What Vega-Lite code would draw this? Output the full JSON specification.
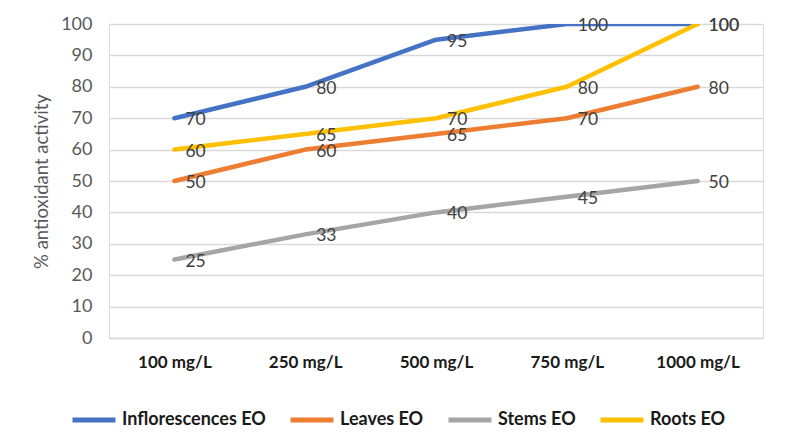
{
  "$schema": "https://vega.github.io/schema/vega-lite/v6.json",
  "width": 654,
  "height": 314,
  "autosize": {"type": "none"},
  "padding": {"left": 109, "top": 24, "right": 24, "bottom": 102},
  "background": "white",
  "data": {
    "values": [
      {"conc": "100 mg/L", "series": "Inflorescences EO", "value": 70},
      {"conc": "250 mg/L", "series": "Inflorescences EO", "value": 80},
      {"conc": "500 mg/L", "series": "Inflorescences EO", "value": 95},
      {"conc": "750 mg/L", "series": "Inflorescences EO", "value": 100},
      {"conc": "1000 mg/L", "series": "Inflorescences EO", "value": 100},
      {"conc": "100 mg/L", "series": "Leaves EO", "value": 50},
      {"conc": "250 mg/L", "series": "Leaves EO", "value": 60},
      {"conc": "500 mg/L", "series": "Leaves EO", "value": 65},
      {"conc": "750 mg/L", "series": "Leaves EO", "value": 70},
      {"conc": "1000 mg/L", "series": "Leaves EO", "value": 80},
      {"conc": "100 mg/L", "series": "Stems EO", "value": 25},
      {"conc": "250 mg/L", "series": "Stems EO", "value": 33},
      {"conc": "500 mg/L", "series": "Stems EO", "value": 40},
      {"conc": "750 mg/L", "series": "Stems EO", "value": 45},
      {"conc": "1000 mg/L", "series": "Stems EO", "value": 50},
      {"conc": "100 mg/L", "series": "Roots EO", "value": 60},
      {"conc": "250 mg/L", "series": "Roots EO", "value": 65},
      {"conc": "500 mg/L", "series": "Roots EO", "value": 70},
      {"conc": "750 mg/L", "series": "Roots EO", "value": 80},
      {"conc": "1000 mg/L", "series": "Roots EO", "value": 100}
    ]
  },
  "encoding": {
    "x": {
      "field": "conc",
      "type": "ordinal",
      "sort": ["100 mg/L", "250 mg/L", "500 mg/L", "750 mg/L", "1000 mg/L"],
      "scale": {"type": "point", "padding": 0.5},
      "axis": {
        "title": null,
        "labelAngle": 0,
        "labelFont": "Lato",
        "labelFontWeight": "bold",
        "labelFontSize": 17,
        "labelColor": "#1a1a1a",
        "labelPadding": 16,
        "ticks": false,
        "grid": false,
        "domain": true,
        "domainColor": "#D9D9D9",
        "domainWidth": 1.3
      }
    },
    "y": {
      "field": "value",
      "type": "quantitative",
      "scale": {"domain": [0, 100]},
      "axis": {
        "title": "% antioxidant activity",
        "titleFont": "Lato",
        "titleFontSize": 18.5,
        "titleFontWeight": "normal",
        "titleColor": "#595959",
        "titlePadding": 9,
        "values": [0, 10, 20, 30, 40, 50, 60, 70, 80, 90, 100],
        "labelFont": "Lato",
        "labelFontSize": 18,
        "labelColor": "#595959",
        "labelPadding": 17,
        "ticks": false,
        "domain": false,
        "grid": true,
        "gridColor": "#D9D9D9",
        "gridWidth": 1.3
      }
    },
    "color": {
      "field": "series",
      "type": "nominal",
      "scale": {
        "domain": ["Inflorescences EO", "Leaves EO", "Stems EO", "Roots EO"],
        "range": ["#4472C4", "#ED7D31", "#A5A5A5", "#FFC000"]
      },
      "legend": {
        "title": null,
        "orient": "none",
        "direction": "horizontal",
        "legendX": -39,
        "legendY": 372,
        "symbolType": "stroke",
        "symbolSize": 1849,
        "symbolStrokeWidth": 5,
        "labelFont": "Lato",
        "labelFontWeight": "bold",
        "labelFontSize": 18,
        "labelColor": "#1a1a1a",
        "labelOffset": 4,
        "columnPadding": 14
      }
    }
  },
  "layer": [
    {
      "mark": {"type": "line", "strokeWidth": 4.5, "interpolate": "linear", "strokeCap": "round", "strokeJoin": "round", "clip": true}
    },
    {
      "mark": {"type": "text", "align": "left", "baseline": "middle", "dx": 11, "dy": 2, "font": "Lato", "fontSize": 17.5},
      "encoding": {
        "text": {"field": "value", "type": "quantitative"},
        "color": {"value": "#404040"}
      }
    }
  ]
}
